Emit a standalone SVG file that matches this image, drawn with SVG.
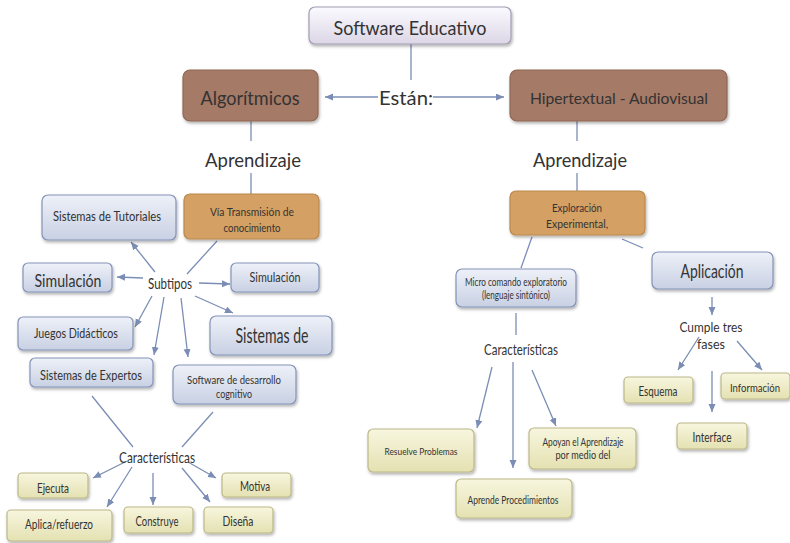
<svg xmlns="http://www.w3.org/2000/svg" width="790" height="543" viewBox="0 0 790 543">
<defs>
<style>
text{font-family:Lato,"Liberation Sans",Arial,sans-serif;fill:#333;text-anchor:middle;dominant-baseline:central}
.c line{stroke:#7b8db5;stroke-width:1.3;fill:none}
.a{marker-end:url(#ah)}
.blue{fill:url(#gb);stroke:#8493b8;stroke-width:1.2}
.top{fill:url(#gt);stroke:#a29cb2;stroke-width:1.2}
.brown{fill:#a57a66;stroke:#8f6754;stroke-width:1.2}
.orange{fill:#d4a064;stroke:#bb894c;stroke-width:1.2}
.yel{fill:url(#gy);stroke:#bcb888;stroke-width:1.2}
.sh{filter:url(#ds)}
</style>
<linearGradient id="gb" x1="0" y1="0" x2="0" y2="1"><stop offset="0" stop-color="#eef1f8"/><stop offset="1" stop-color="#c8d0e3"/></linearGradient>
<linearGradient id="gt" x1="0" y1="0" x2="0" y2="1"><stop offset="0" stop-color="#fbfaff"/><stop offset="1" stop-color="#dcd6e6"/></linearGradient>
<linearGradient id="gy" x1="0" y1="0" x2="0" y2="1"><stop offset="0" stop-color="#f7f6de"/><stop offset="1" stop-color="#e4e1b2"/></linearGradient>
<filter id="ds" x="-10%" y="-10%" width="125%" height="140%"><feDropShadow dx="1" dy="2" stdDeviation="1.5" flood-color="#000" flood-opacity="0.3"/></filter>
<marker id="ah" markerUnits="userSpaceOnUse" markerWidth="9" markerHeight="8" refX="8" refY="3.5" orient="auto"><path d="M0,0 L8,3.5 L0,7 z" fill="#7b8db5"/></marker>
</defs>

<g class="c" id="connectors">
<line x1="411" y1="43" x2="411" y2="80"/>
<line class="a" x1="378" y1="97" x2="325" y2="97"/>
<line class="a" x1="433" y1="97" x2="504" y2="97"/>
<line x1="251" y1="121" x2="251" y2="141"/>
<line x1="251" y1="173" x2="251" y2="194"/>
<line x1="577" y1="121" x2="577" y2="141"/>
<line x1="577" y1="173" x2="577" y2="191"/>
<line x1="217" y1="241" x2="187" y2="274"/>
<line class="a" x1="155" y1="272" x2="131" y2="242"/>
<line class="a" x1="143" y1="278" x2="117" y2="277"/>
<line class="a" x1="199" y1="283" x2="230" y2="284"/>
<line class="a" x1="195" y1="296" x2="233" y2="313"/>
<line class="a" x1="152" y1="296" x2="135" y2="327"/>
<line class="a" x1="164" y1="297" x2="154" y2="355"/>
<line class="a" x1="181" y1="298" x2="188" y2="357"/>
<line x1="92" y1="396" x2="133" y2="447"/>
<line x1="213" y1="412" x2="182" y2="447"/>
<line class="a" x1="125" y1="462" x2="93" y2="478"/>
<line class="a" x1="132" y1="467" x2="107" y2="507"/>
<line class="a" x1="153" y1="473" x2="153" y2="505"/>
<line class="a" x1="182" y1="468" x2="210" y2="502"/>
<line class="a" x1="188" y1="462" x2="216" y2="478"/>
<line x1="532" y1="237" x2="521" y2="268"/>
<line x1="622" y1="239" x2="643" y2="248"/>
<line x1="516" y1="313" x2="516" y2="335"/>
<line class="a" x1="492" y1="367" x2="477" y2="428"/>
<line class="a" x1="513" y1="362" x2="513" y2="468"/>
<line class="a" x1="532" y1="370" x2="556" y2="426"/>
<line class="a" x1="712" y1="297" x2="712" y2="315"/>
<line class="a" x1="699" y1="337" x2="678" y2="370"/>
<line class="a" x1="737" y1="341" x2="762" y2="370"/>
<line class="a" x1="712" y1="371" x2="712" y2="412"/>
</g>

<g id="software-educativo"><rect class="top sh" x="309" y="7" width="202" height="37" rx="6"/><text x="410" y="27" font-size="19" textLength="153" lengthAdjust="spacingAndGlyphs">Software Educativo</text></g>
<g id="estan"><text x="406" y="97" font-size="19" textLength="54" lengthAdjust="spacingAndGlyphs">Están:</text></g>
<g id="algoritmicos"><rect class="brown sh" x="183" y="70" width="135" height="51" rx="7"/><text x="250" y="97" font-size="19" textLength="99" lengthAdjust="spacingAndGlyphs">Algorítmicos</text></g>
<g id="hipertextual"><rect class="brown sh" x="510" y="70" width="217" height="51" rx="7"/><text x="619" y="97" font-size="16" textLength="178" lengthAdjust="spacingAndGlyphs">Hipertextual - Audiovisual</text></g>
<g id="aprendizaje-izq"><text x="253" y="159" font-size="19" textLength="96" lengthAdjust="spacingAndGlyphs">Aprendizaje</text></g>
<g id="aprendizaje-der"><text x="580" y="159" font-size="19" textLength="94" lengthAdjust="spacingAndGlyphs">Aprendizaje</text></g>

<g id="via-transmision"><rect class="orange sh" x="184" y="194" width="135" height="45" rx="6"/><text x="252" y="211" font-size="11.5" textLength="84" lengthAdjust="spacingAndGlyphs">Vía Transmisión de</text><text x="252" y="227" font-size="11.5" textLength="57" lengthAdjust="spacingAndGlyphs">conocimiento</text></g>
<g id="tutoriales"><rect class="blue sh" x="42" y="195" width="134" height="45" rx="6"/><text x="107" y="216" font-size="12.5" textLength="108" lengthAdjust="spacingAndGlyphs">Sistemas de Tutoriales</text></g>
<g id="subtipos"><text x="170" y="283" font-size="15" textLength="44" lengthAdjust="spacingAndGlyphs">Subtipos</text></g>
<g id="simulacion-izq"><rect class="blue sh" x="23" y="263" width="89" height="29" rx="5"/><text x="68" y="280" font-size="18" textLength="67" lengthAdjust="spacingAndGlyphs">Simulación</text></g>
<g id="simulacion-der"><rect class="blue sh" x="231" y="263" width="88" height="29" rx="5"/><text x="275" y="277" font-size="12.5" textLength="51" lengthAdjust="spacingAndGlyphs">Simulación</text></g>
<g id="juegos"><rect class="blue sh" x="18" y="317" width="115" height="33" rx="5"/><text x="76" y="333" font-size="12.5" textLength="84" lengthAdjust="spacingAndGlyphs">Juegos Didácticos</text></g>
<g id="sistemas-de"><rect class="blue sh" x="210" y="316" width="122" height="39" rx="6"/><text x="272" y="334" font-size="22" textLength="73" lengthAdjust="spacingAndGlyphs">Sistemas de</text></g>
<g id="expertos"><rect class="blue sh" x="30" y="358" width="123" height="29" rx="5"/><text x="91" y="375" font-size="12.5" textLength="102" lengthAdjust="spacingAndGlyphs">Sistemas de Expertos</text></g>
<g id="software-desarrollo"><rect class="blue sh" x="173" y="365" width="123" height="39" rx="6"/><text x="234" y="379" font-size="11.5" textLength="94" lengthAdjust="spacingAndGlyphs">Software de desarrollo</text><text x="234" y="393" font-size="11.5" textLength="36" lengthAdjust="spacingAndGlyphs">cognitivo</text></g>
<g id="caracteristicas-izq"><text x="157" y="456" font-size="16" textLength="76" lengthAdjust="spacingAndGlyphs">Características</text></g>
<g id="ejecuta"><rect class="yel sh" x="18" y="473" width="70" height="25" rx="4"/><text x="53" y="488" font-size="12.5" textLength="32" lengthAdjust="spacingAndGlyphs">Ejecuta</text></g>
<g id="aplica"><rect class="yel sh" x="7" y="510" width="105" height="31" rx="4"/><text x="59" y="524" font-size="12.5" textLength="68" lengthAdjust="spacingAndGlyphs">Aplica/refuerzo</text></g>
<g id="construye"><rect class="yel sh" x="124" y="507" width="69" height="26" rx="4"/><text x="157" y="521" font-size="12.5" textLength="43" lengthAdjust="spacingAndGlyphs">Construye</text></g>
<g id="disena"><rect class="yel sh" x="204" y="507" width="69" height="26" rx="4"/><text x="238" y="521" font-size="12.5" textLength="31" lengthAdjust="spacingAndGlyphs">Diseña</text></g>
<g id="motiva"><rect class="yel sh" x="222" y="473" width="69" height="24" rx="4"/><text x="255" y="486" font-size="12.5" textLength="30" lengthAdjust="spacingAndGlyphs">Motiva</text></g>

<g id="exploracion"><rect class="orange sh" x="510" y="191" width="135" height="44" rx="6"/><text x="577" y="207" font-size="11.5" textLength="50" lengthAdjust="spacingAndGlyphs">Exploración</text><text x="577" y="223" font-size="11.5" textLength="62" lengthAdjust="spacingAndGlyphs">Experimental,</text></g>
<g id="micro-comando"><rect class="blue sh" x="456" y="269" width="120" height="38" rx="6"/><text x="516" y="282" font-size="10.5" textLength="102" lengthAdjust="spacingAndGlyphs">Micro comando exploratorio</text><text x="516" y="295" font-size="10.5" textLength="68" lengthAdjust="spacingAndGlyphs">(lenguaje sintónico)</text></g>
<g id="caracteristicas-der"><text x="521" y="348" font-size="16" textLength="74" lengthAdjust="spacingAndGlyphs">Características</text></g>
<g id="aplicacion"><rect class="blue sh" x="652" y="252" width="121" height="37" rx="6"/><text x="712" y="270" font-size="19" textLength="63" lengthAdjust="spacingAndGlyphs">Aplicación</text></g>
<g id="cumple"><text x="711" y="326" font-size="14" textLength="63" lengthAdjust="spacingAndGlyphs">Cumple tres</text><text x="711" y="343" font-size="14" textLength="28" lengthAdjust="spacingAndGlyphs">fases</text></g>
<g id="resuelve"><rect class="yel sh" x="368" y="429" width="106" height="43" rx="5"/><text x="421" y="451" font-size="9.5" textLength="73" lengthAdjust="spacingAndGlyphs">Resuelve Problemas</text></g>
<g id="apoyan"><rect class="yel sh" x="529" y="428" width="107" height="41" rx="5"/><text x="583" y="442" font-size="10.5" textLength="81" lengthAdjust="spacingAndGlyphs">Apoyan el Aprendizaje</text><text x="583" y="455" font-size="10.5" textLength="55" lengthAdjust="spacingAndGlyphs">por medio del</text></g>
<g id="aprende"><rect class="yel sh" x="456" y="479" width="116" height="39" rx="5"/><text x="513" y="500" font-size="10.5" textLength="91" lengthAdjust="spacingAndGlyphs">Aprende  Procedimientos</text></g>
<g id="esquema"><rect class="yel sh" x="624" y="377" width="69" height="26" rx="4"/><text x="658" y="391" font-size="12.5" textLength="39" lengthAdjust="spacingAndGlyphs">Esquema</text></g>
<g id="informacion"><rect class="yel sh" x="721" y="373" width="69" height="26" rx="4"/><text x="755" y="387" font-size="11.5" textLength="50" lengthAdjust="spacingAndGlyphs">Información</text></g>
<g id="interface"><rect class="yel sh" x="677" y="423" width="70" height="26" rx="4"/><text x="712" y="437" font-size="12.5" textLength="39" lengthAdjust="spacingAndGlyphs">Interface</text></g>
</svg>
